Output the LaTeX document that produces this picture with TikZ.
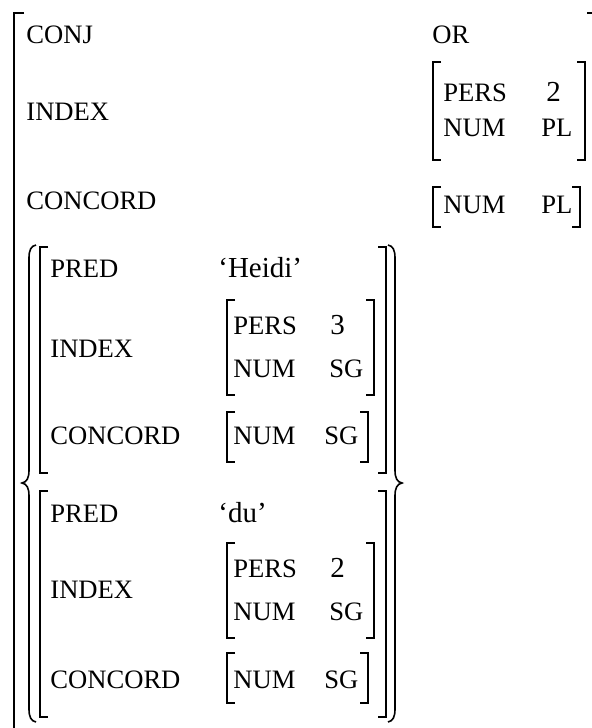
\documentclass[tikz,border=0pt]{standalone}
\usepackage{fontspec}
\setmainfont{Liberation Serif}
\usepackage{tikz}

\begin{document}
\begin{tikzpicture}[x=0.5pt, y=-0.5pt,
  attr/.style={anchor=base west, inner sep=0pt, font=\fontsize{13.3}{15}\selectfont},
  val/.style={anchor=base west, inner sep=0pt, font=\fontsize{14.5}{16}\selectfont},
  brk/.style={line width=1.2pt},
  brc/.style={line width=0.8pt}]
\useasboundingbox (0,0) rectangle (591,728);
% --- outer f-structure ---
\draw[brk] (24,13) -| (14,740);
\draw[brk] (587,13) -- (597,13);
\node[attr] (conj)  at (26,43)  {CONJ};
\node[attr] (or)    at (432,43) {OR};
\node[attr] (index) at (26,120) {INDEX};
\node[attr] (conc)  at (26,209) {CONCORD};
% index and concord values of the coordination
\node[attr] (pers0)  at (443,101) {PERS};
\node[val]  (pers0v) at (546,101) {2};
\node[attr] (num0)   at (443,136) {NUM};
\node[attr] (num0v)  at (541,136) {PL};
\node[attr] (num1)   at (443,213) {NUM};
\node[attr] (num1v)  at (541,213) {PL};
% --- set of conjuncts ---
\draw[brc] (36,245) .. controls (31,246) and (29,250) .. (29,258) -- (29,470)
  .. controls (29,478) and (27,482) .. (22,483) .. controls (27,484) and (29,488) .. (29,496)
  -- (29,709) .. controls (29,717) and (31,721) .. (36,722);
\draw[brc] (388,245) .. controls (393,246) and (395,250) .. (395,258) -- (395,470)
  .. controls (395,478) and (397,482) .. (402,483) .. controls (397,484) and (395,488) .. (395,496)
  -- (395,709) .. controls (395,717) and (393,721) .. (388,722);
% first conjunct
\node[attr] (pred1)  at (50,277)  {PRED};
\node[val]  (pred1v) at (218,277) {`Heidi'};
\node[attr] (idx1)   at (50,357)  {INDEX};
\node[attr] (pers1)  at (233,334) {PERS};
\node[val]  (pers1v) at (330,334) {3};
\node[attr] (num2)   at (233,377) {NUM};
\node[attr] (num2v)  at (329,377) {SG};
\node[attr] (conc1)  at (50,444)  {CONCORD};
\node[attr] (num3)   at (233,444) {NUM};
\node[attr] (num3v)  at (324,444) {SG};
% second conjunct
\node[attr] (pred2)  at (50,522)  {PRED};
\node[val]  (pred2v) at (218,522) {`du'};
\node[attr] (idx2)   at (50,598)  {INDEX};
\node[attr] (pers2)  at (233,577) {PERS};
\node[val]  (pers2v) at (330,577) {2};
\node[attr] (num4)   at (233,620) {NUM};
\node[attr] (num4v)  at (329,620) {SG};
\node[attr] (conc2)  at (50,688)  {CONCORD};
\node[attr] (num5)   at (233,688) {NUM};
\node[attr] (num5v)  at (324,688) {SG};
% --- brackets ---
\foreach \x/\ya/\yb in {433/62/160, 433/187/227, 40/247/473, 40/491/717,
    227/300/395, 227/412/462, 227/543/638, 227/653/703}
  \draw[brk] (\x+8,\ya) -| (\x,\yb) -- ++(8,0);
\foreach \x/\ya/\yb in {585/62/160, 580/187/227, 386/247/473, 386/491/717,
    374/300/395, 368/412/462, 374/543/638, 368/653/703}
  \draw[brk] (\x-8,\ya) -| (\x,\yb) -- ++(-8,0);
\end{tikzpicture}
\end{document}
